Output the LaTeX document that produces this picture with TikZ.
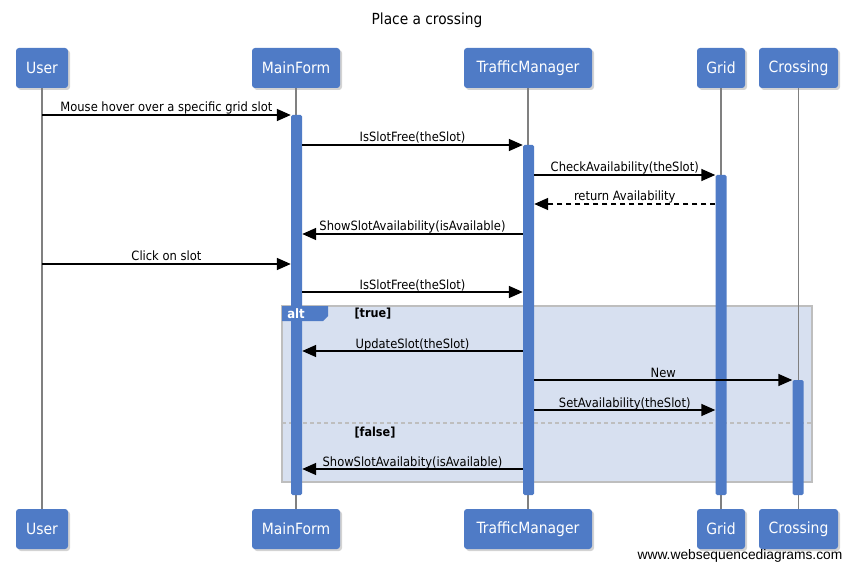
\documentclass[tikz,border=0pt]{standalone}
\usepackage{fontspec}
\setmainfont{DejaVu Sans Condensed}
\newfontfamily\sitefont{Liberation Sans}
\usetikzlibrary{arrows.meta,shadows}
\definecolor{wsdblue}{RGB}{79,123,198}
\definecolor{altfill}{RGB}{215,224,240}
\definecolor{altline}{RGB}{190,190,190}
\definecolor{lifegray}{RGB}{128,128,128}

\begin{document}
\begin{tikzpicture}[x=1pt, y=-1pt,
  every node/.style={font=\fontsize{12.8}{15}\selectfont},
  actor/.style={rectangle, rounded corners=3pt, fill=wsdblue, text=white, minimum height=40pt, inner sep=0pt,
    font=\fontsize{15.5}{18}\selectfont, drop shadow={shadow xshift=2pt, shadow yshift=-2pt, opacity=0.35}},
  bar/.style={rectangle, fill=wsdblue, minimum width=11pt, inner sep=0pt, rounded corners=1.5pt},
  life/.style={draw=lifegray, line width=1.5pt},
  msg/.style={line width=1.6pt, -{Triangle[length=14pt,width=12pt]}},
  reply/.style={msg, dash pattern=on 5pt off 4pt},
  lbl/.style={anchor=base, yshift=3pt, inner sep=0pt},
  guard/.style={anchor=west, font=\fontsize{12.5}{15}\selectfont\bfseries},
  headline/.style={font=\fontsize{15.3}{18}\selectfont},
  site/.style={font=\fontsize{13.8}{16}\sitefont}]
\useasboundingbox (0,0) rectangle (854,572);
\node[headline] (Title) at (427,20) {Place a crossing};
% participants
\node[actor, minimum width=52pt] (User) at (42,68) {User};
\node[actor, minimum width=88pt] (MainForm) at (296,68) {MainForm};
\node[actor, minimum width=128pt] (Traffic) at (528,68) {TrafficManager};
\node[actor, minimum width=48pt] (Grid) at (721,68) {Grid};
\node[actor, minimum width=79pt] (Crossing) at (798.5,68) {Crossing};
\node[actor, minimum width=52pt] (UserB) at (42,529) {User};
\node[actor, minimum width=88pt] (MainFormB) at (296,529) {MainForm};
\node[actor, minimum width=128pt] (TrafficB) at (528,529) {TrafficManager};
\node[actor, minimum width=48pt] (GridB) at (721,529) {Grid};
\node[actor, minimum width=79pt] (CrossingB) at (798.5,529) {Crossing};
% alt frame
\draw[altline, fill=altfill, line width=2pt] (282,306) rectangle (812,482);
\draw[altline, line width=1.5pt, dash pattern=on 4pt off 3pt] (282,423) -- (812,423);
\node[guard] (True) at (351,314) {[true]};
\node[guard] (False) at (351,433) {[false]};
% lifelines
\draw[life] (User) -- (UserB);
\draw[life] (MainForm) -- (MainFormB);
\draw[life] (Traffic) -- (TrafficB);
\draw[life] (Grid) -- (GridB);
\draw[life] (Crossing.south) -- (CrossingB.north);
% activations
\node[bar, minimum height=380pt] (MFbar) at (296.5,305) {};
\node[bar, minimum height=350pt] (TMbar) at (528.5,320) {};
\node[bar, minimum height=320pt] (GRbar) at (721,335) {};
\node[bar, minimum height=115pt] (CRbar) at (798,437.5) {};
\fill[wsdblue] (282,306) -- (328,306) -- (328,316) -- (323,321) -- (282,321) -- cycle;
\node[text=white, inner sep=0pt, font=\fontsize{13}{15}\selectfont\bfseries] (Alt) at (296,313.5) {alt};
% messages
\draw[msg] (User |- 0,115) -- (MFbar.west |- 0,115) node[lbl, midway] {Mouse hover over a specific grid slot};
\draw[msg] (MFbar.east |- 0,145) -- (TMbar.west |- 0,145) node[lbl, midway] {IsSlotFree(theSlot)};
\draw[msg] (TMbar.east |- 0,175) -- (GRbar.west |- 0,175) node[lbl, midway] {CheckAvailability(theSlot)};
\draw[reply] (GRbar.west |- 0,204) -- (TMbar.east |- 0,204) node[lbl, midway] {return Availability};
\draw[msg] (TMbar.west |- 0,234) -- (MFbar.east |- 0,234) node[lbl, midway] {ShowSlotAvailability(isAvailable)};
\draw[msg] (User |- 0,264) -- (MFbar.west |- 0,264) node[lbl, midway] {Click on slot};
\draw[msg] (MFbar.east |- 0,292) -- (TMbar.west |- 0,292) node[lbl, midway] {IsSlotFree(theSlot)};
\draw[msg] (TMbar.west |- 0,351) -- (MFbar.east |- 0,351) node[lbl, midway] {UpdateSlot(theSlot)};
\draw[msg] (TMbar.east |- 0,380) -- (CRbar.west |- 0,380) node[lbl, midway] {New};
\draw[msg] (TMbar.east |- 0,410) -- (GRbar.west |- 0,410) node[lbl, midway] {SetAvailability(theSlot)};
\draw[msg] (TMbar.west |- 0,469) -- (MFbar.east |- 0,469) node[lbl, midway] {ShowSlotAvailabity(isAvailable)};
\node[site] (Site) at (740,556) {www.websequencediagrams.com};
\end{tikzpicture}
\end{document}
